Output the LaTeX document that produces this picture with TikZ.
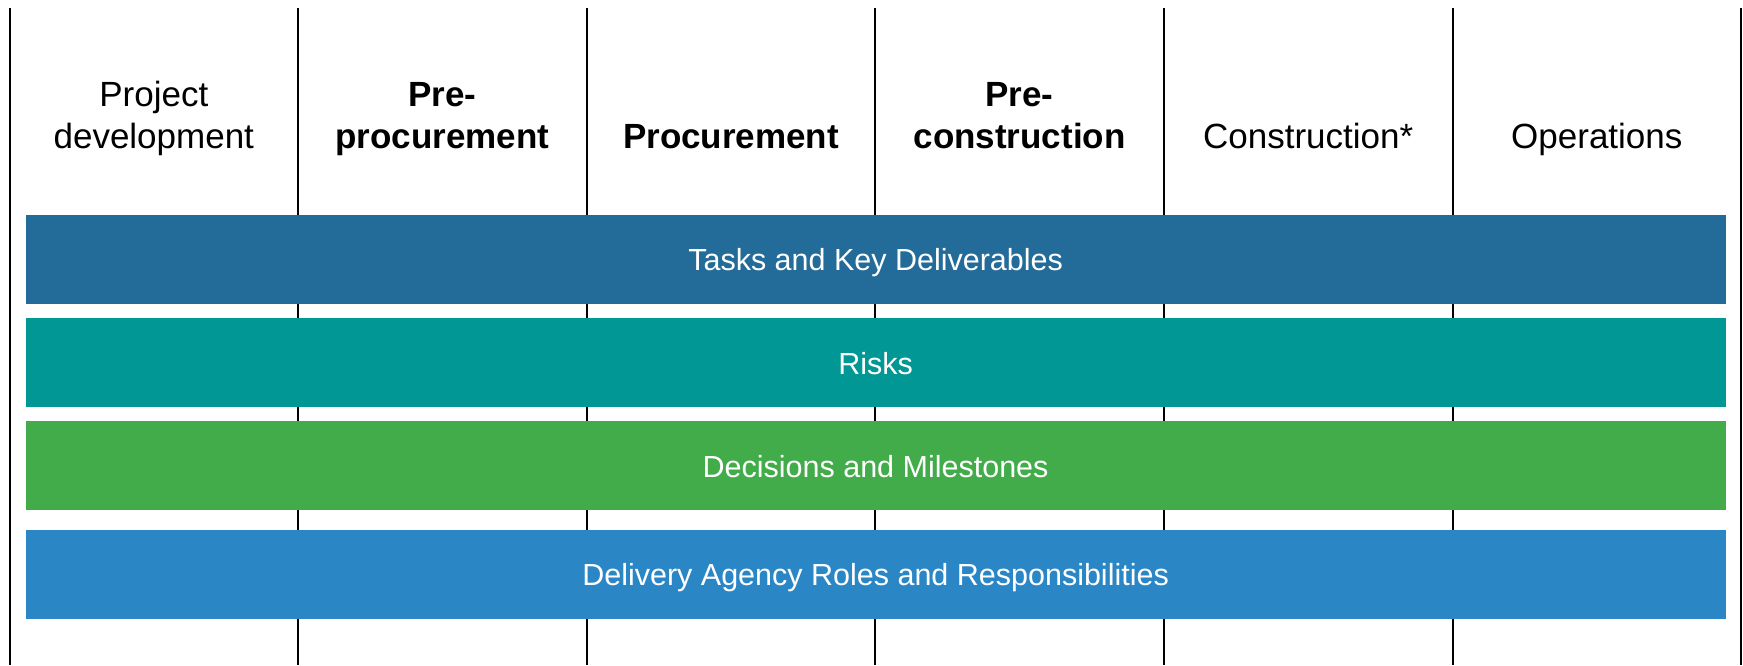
\documentclass[tikz,border=0pt]{standalone}
\usepackage{fontspec}
\setmainfont{Liberation Sans}
\definecolor{barA}{HTML}{236B98}
\definecolor{barB}{HTML}{009794}
\definecolor{barC}{HTML}{42AC4B}
\definecolor{barD}{HTML}{2B86C6}
\begin{document}
\begin{tikzpicture}[x=1pt,y=-1pt,
  divider/.style={line width=2pt,black},
  hdr/.style={inner sep=0pt,anchor=base,align=center,font=\fontsize{35}{42.5}\selectfont},
  hdrbold/.style={hdr,font=\fontsize{35}{42.5}\selectfont\bfseries},
  bar/.style={draw=none,inner sep=0pt,minimum width=1700pt,minimum height=89pt,text height=23pt,text depth=0pt,text=white,font=\fontsize{30.5}{36}\selectfont}]
\useasboundingbox[fill=white] (0,0) rectangle (1743,665);
% column dividers
\foreach \i/\x in {0/9.5,1/298.1,2/586.7,3/875.3,4/1163.9,5/1452.5,6/1741.1}{
  \coordinate (t\i) at (\x,7.5);
  \coordinate (b\i) at (\x,665);
  \draw[divider] (t\i) -- (b\i);
}
% headers
\node[hdr] (h1a) at (153.8,106) {Project};
\node[hdr] (h1b) at (153.8,148.3) {development};
\node[hdrbold] (h2a) at (442.4,106) {Pre-};
\node[hdrbold] (h2b) at (442.4,148.3) {procurement};
\node[hdrbold] (h3) at (731,148.3) {Procurement};
\node[hdrbold] (h4a) at (1019.6,106) {Pre-};
\node[hdrbold] (h4b) at (1019.6,148.3) {construction};
\node[hdr] (h5) at (1308.2,148.3) {Construction*};
\node[hdr] (h6) at (1596.8,148.3) {Operations};
% bars
\node[bar,fill=barA] (tasks) at (875.6,259.2) {Tasks and Key Deliverables};
\node[bar,fill=barB] (risks) at (875.6,362.8) {Risks};
\node[bar,fill=barC] (decisions) at (875.6,465.8) {Decisions and Milestones};
\node[bar,fill=barD] (roles) at (875.6,574.3) {Delivery Agency Roles and Responsibilities};
\end{tikzpicture}
\end{document}
